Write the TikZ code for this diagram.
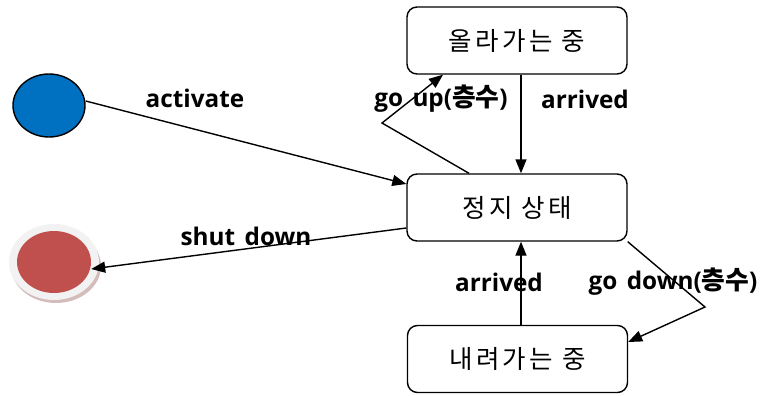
\documentclass[tikz,border=0pt]{standalone}
\usepackage{fontspec}
\setmainfont{Open Sans}[WordSpace=1.5]
\newfontfamily\krfont[Scale=1.06]{Noto Sans CJK KR}
\newfontfamily\statefont[LetterSpace=13]{Noto Sans CJK KR}
\usetikzlibrary{arrows.meta,shapes.geometric}
\definecolor{startblue}{HTML}{0070C0}
\definecolor{endred}{HTML}{C0504D}
\definecolor{ringgray}{HTML}{F2F2F2}
\definecolor{shadowred}{HTML}{B89090}
\newcommand{\kr}[1]{{\krfont #1}}
\begin{document}
\begin{tikzpicture}[x=1pt,y=-1pt,
  statebox/.style={draw=black,line width=1.4pt,rounded corners=10pt,fill=white,
    minimum width=220pt,minimum height=67pt,inner sep=0pt,
    font=\statefont\fontsize{25.5}{28}\selectfont},
  trans/.style={draw=black,line width=1.4pt,-{Triangle[length=14pt,width=11pt]}},
  lbl/.style={font=\bfseries\fontsize{24.3}{26}\selectfont,inner sep=0pt}]
\useasboundingbox (0,0) rectangle (768,396);

% states
\node[statebox] (up)   at (517,40.5)  {올라가는 중};
\node[statebox] (idle) at (517,207.5) {정지 상태};
\node[statebox] (down) at (517.5,359) {내려가는 중};

% initial state
\node[draw=black,line width=1.4pt,fill=startblue,ellipse,minimum width=72pt,minimum height=63pt,inner sep=0pt] (init) at (49,105.5) {};

% final state with its ring and shadow
\fill[shadowred!60] (56,266) ellipse [x radius=45pt, y radius=37pt];
\fill[ringgray] (54,262) ellipse [x radius=45pt, y radius=38pt];
\node[fill=endred,ellipse,minimum width=74pt,minimum height=62pt,inner sep=0pt] (fin) at (54,262) {};

% helper points for the bent transitions
\coordinate (upbend) at (382,123);
\coordinate (downbend) at (705,307);

% transitions
\draw[trans] (init.east |- 0,101) -- (idle.west |- 0,184);
\draw[trans] (idle.west |- 0,228) -- (fin.east |- 0,269);
\draw[trans] (idle.north -| 469,0) -- (upbend) -- (up.south -| 443,0);
\draw[trans] (up.south -| 521,0) -- (idle.north -| 521,0);
\draw[trans] (down.north -| 521,0) -- (idle.south -| 521,0);
\draw[trans] (idle.south east) -- (downbend) -- (down.east |- 0,342);

% labels
\node[lbl] (lact) at (195,98) {activate};
\node[lbl] (lgoup) at (441,99) {go up(\kr{층수})};
\node[lbl] (larr1) at (585,99) {arrived};
\node[lbl] (lshut) at (246,236) {shut down};
\node[lbl] (larr2) at (499,282) {arrived};
\node[lbl] (lgodn) at (673,282) {go down(\kr{층수})};
\end{tikzpicture}
\end{document}
